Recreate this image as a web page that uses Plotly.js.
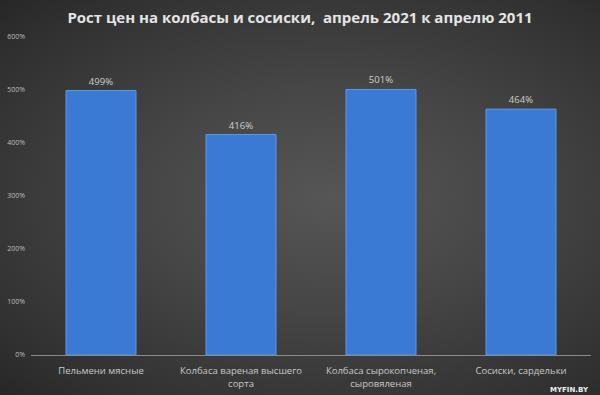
<!DOCTYPE html>
<html>
<head>
<meta charset="utf-8">
<script src="https://cdn.plot.ly/plotly-3.0.1.min.js"></script>
<style>
html,body{margin:0;padding:0;}
#chart{width:600px;height:395px;background:radial-gradient(ellipse at 55% 50%, #565656 0%, #464646 40%, #303030 85%, #272727 100%);}
</style>
</head>
<body>
<div id="chart"></div>
<script>
const categories = ["Пельмени мясные", "Колбаса вареная высшего<br>сорта", "Колбаса сырокопченая,<br>сыровяленая", "Сосиски, сардельки"];
const growthPct = [499, 416, 501, 464];
const yTickVals = [0, 100, 200, 300, 400, 500, 600];
const titleText = "Рост цен на колбасы и сосиски,  апрель 2021 к апрелю 2011";

const trace = {
  type: 'bar',
  x: categories,
  y: growthPct,
  width: 0.5,
  marker: {color: '#3a7ad4', line: {color: '#5d99e6', width: 1}},
  text: growthPct.map(v => v + '%'),
  textposition: 'outside',
  textfont: {family: 'Open Sans, sans-serif', size: 9.5, color: '#cfcfcf'},
  cliponaxis: false,
  hoverinfo: 'none'
};

const layout = {
  width: 600, height: 395,
  margin: {l: 31, r: 9, t: 37, b: 40},
  paper_bgcolor: 'rgba(0,0,0,0)',
  plot_bgcolor: 'rgba(0,0,0,0)',
  showlegend: false,
  title: {text: '<b>' + titleText + '</b>', x: 0.5, xanchor: 'center', y: 0.955, yanchor: 'middle',
          font: {family: 'Open Sans, sans-serif', size: 15, color: '#e4e4e4'}},
  xaxis: {
    showgrid: false, zeroline: false,
    showline: true, linecolor: '#8a8a8a', linewidth: 1,
    ticks: '', ticklabelstandoff: 7,
    tickfont: {family: 'Open Sans, sans-serif', size: 9.5, color: '#c8c8c8'},
    tickangle: 0
  },
  yaxis: {
    range: [0, 600], tickvals: yTickVals, ticktext: yTickVals.map(v => v + '%'),
    showgrid: false, zeroline: false, showline: false, ticks: '', ticklabelstandoff: 5,
    tickfont: {family: 'Open Sans, sans-serif', size: 7, color: '#bdbdbd'}
  },
  annotations: [{
    text: '<b>MYFIN.BY</b>', xref: 'paper', yref: 'paper', x: 1, y: -0.11, xanchor: 'right', yanchor: 'middle',
    showarrow: false, font: {family: 'DejaVu Sans, sans-serif', size: 7, color: '#f0f0f0'}
  }]
};

Plotly.newPlot('chart', [trace], layout, {displayModeBar: false, staticPlot: true});
</script>
</body>
</html>
